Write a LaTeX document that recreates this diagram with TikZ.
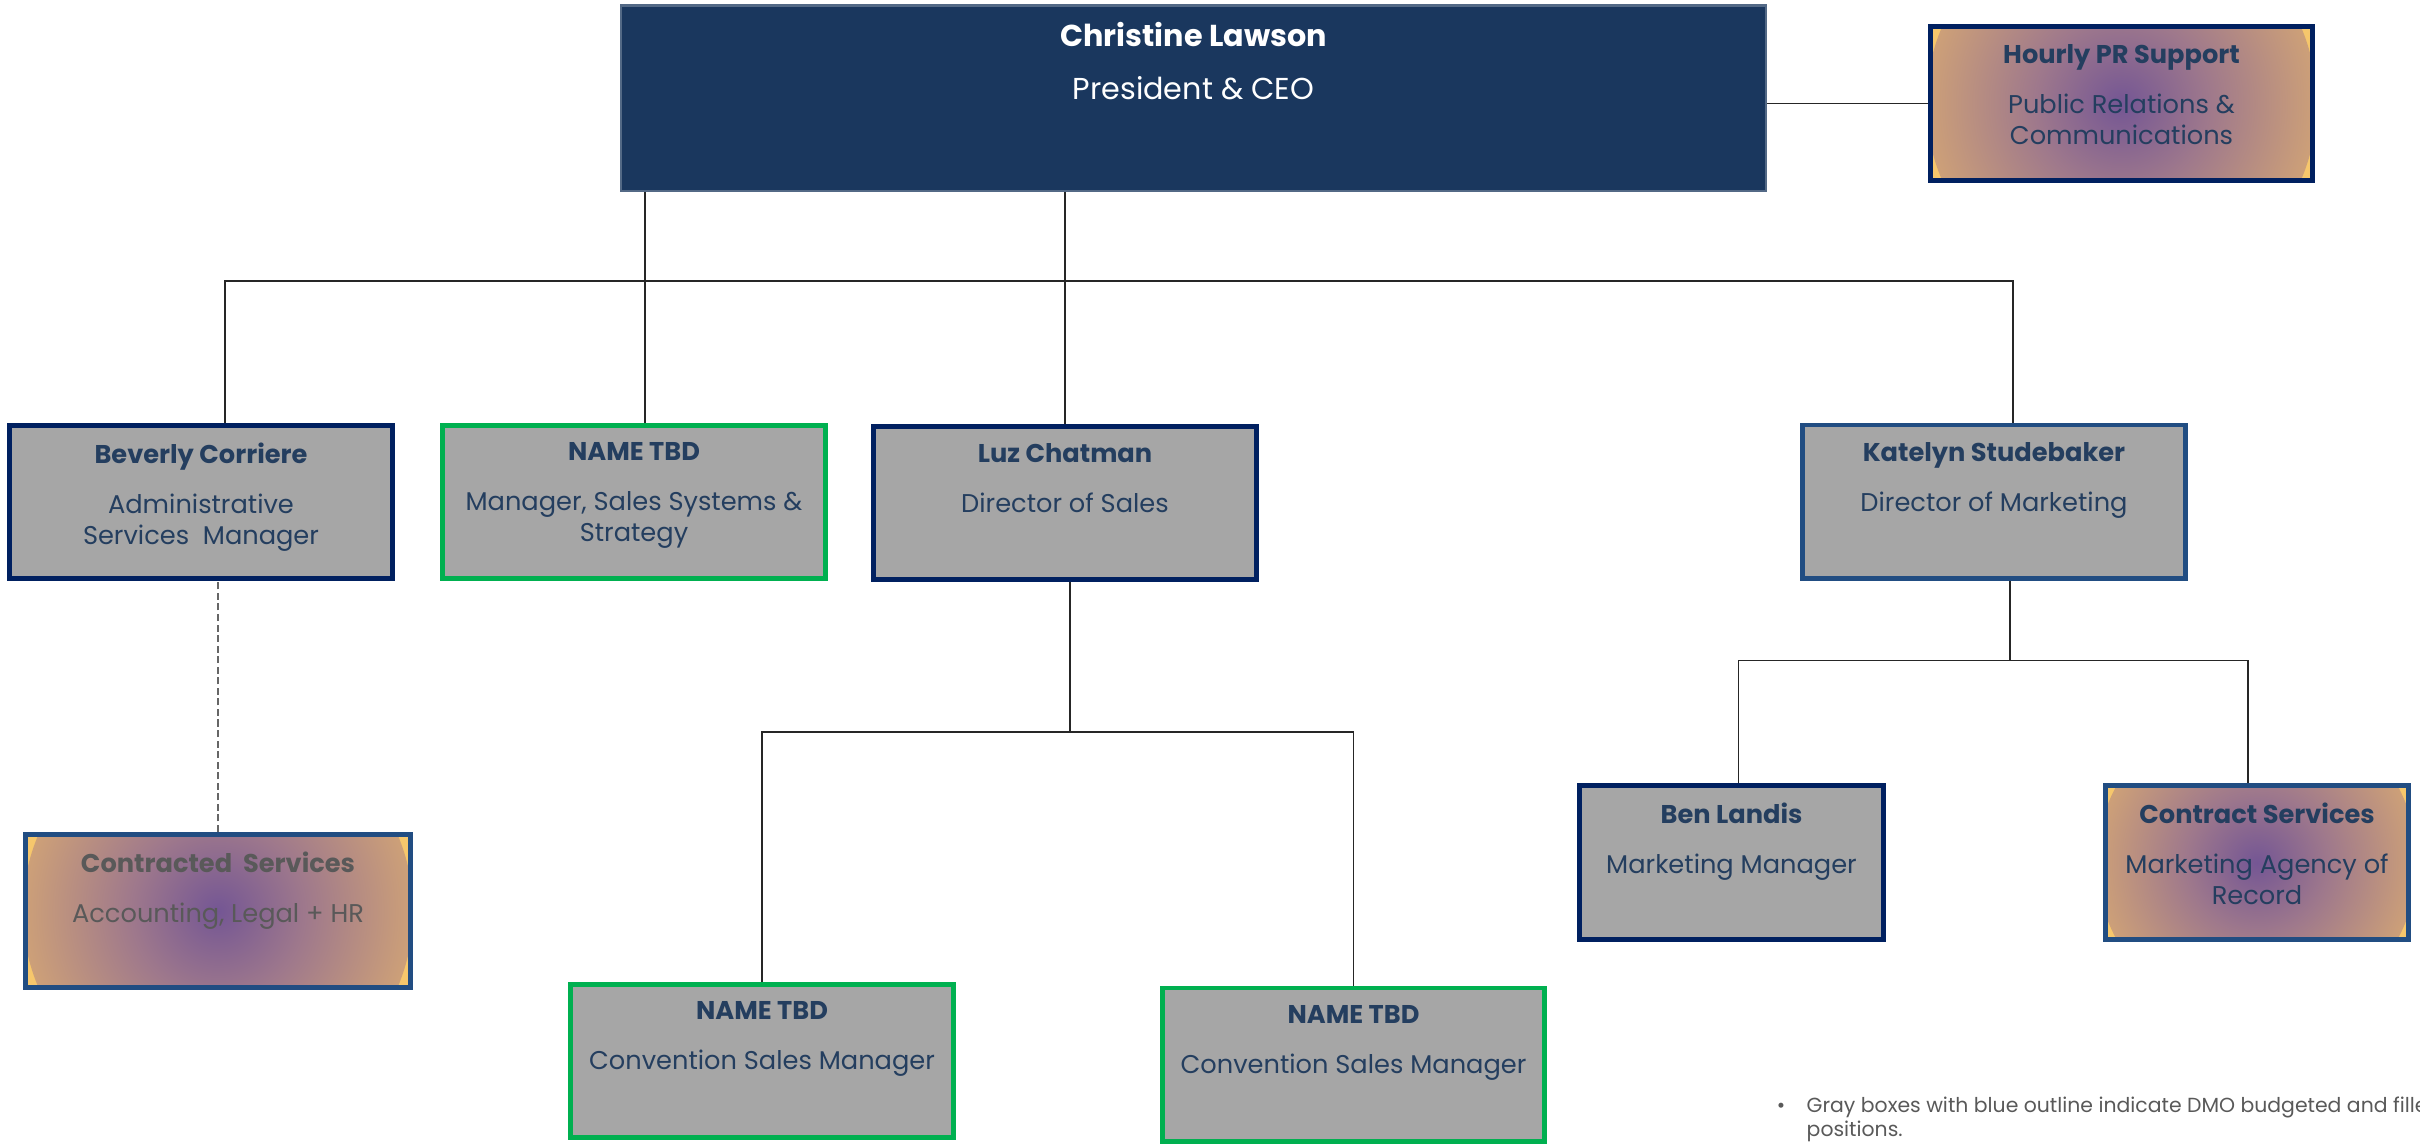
\documentclass[tikz,border=0pt]{standalone}
\usepackage{fontspec}
\setmainfont{Poppins}
\usepackage{xcolor}
\usepackage{tikz}
\usetikzlibrary{positioning,calc}

\definecolor{ceonavy}{RGB}{26,55,94}
\definecolor{boxgray}{RGB}{166,166,166}
\definecolor{darkline}{RGB}{0,32,96}
\definecolor{midline}{RGB}{33,77,130}
\definecolor{tbdgreen}{RGB}{0,176,80}
\definecolor{nametext}{RGB}{36,62,95}
\definecolor{contgray}{RGB}{89,89,89}
\definecolor{prgold}{RGB}{246,199,108}
\definecolor{prtan}{RGB}{205,160,120}
\definecolor{prmauve}{RGB}{158,120,140}
\definecolor{prpurple}{RGB}{116,86,148}

\pgfdeclareradialshading{prglow}{\pgfpoint{0bp}{0bp}}{color(0bp)=(prpurple); color(11bp)=(prmauve); color(25bp)=(prtan); color(39bp)=(prgold); color(50bp)=(prgold)}

\tikzset{
	posbox/.style={draw, line width=1.4pt, fill=boxgray, minimum width=3.82cm, minimum height=1.53cm, inner sep=0pt},
	staffbox/.style={posbox, draw=darkline},
	leadbox/.style={posbox, draw=midline},
	tbdbox/.style={posbox, draw=tbdgreen},
	glowbox/.style={posbox, fill=prgold, path picture={\shade[shading=prglow] (path picture bounding box.center) circle (#1);}},
	conn/.style={draw=black!85, line width=0.4pt},
	txt/.style={anchor=north, align=center, inner sep=0pt, text=nametext, font=\fontsize{7.3}{8.8}\selectfont},
	notetxt/.style={inner sep=0pt, text=contgray, font=\fontsize{5.8}{7}\selectfont},
}

\begin{document}
\begin{tikzpicture}[x=0.01cm, y=-0.01cm]
		\useasboundingbox (0,0) rectangle (2420,1145);
		
		\node[fill=ceonavy, draw=ceonavy!75, line width=0.6pt, minimum width=11.45cm, minimum height=1.85cm] (ceo) at (1193.5,98) {};
		\node[txt, text=white, font=\fontsize{8.6}{10}\selectfont] (ceot) at ([yshift=-0.17cm]ceo.north) {\textbf{Christine Lawson}\\[5pt]President \& CEO};
		
		\node[glowbox=1.95cm, draw=darkline] (pr) at (2121.5,103.5) {};
		\node[txt] (prt) at ([yshift=-0.19cm]pr.north) {\textbf{Hourly PR Support}\\[5.4pt]Public Relations \&\\Communications};
		
		% second row
		\node[staffbox] (bev) at (201,502) {};
		\node[txt] (bevt) at ([yshift=-0.19cm]bev.north) {\textbf{Beverly Corriere}\\[5.4pt]Administrative\\Services~~Manager};
		\node[tbdbox] (sys) at (634,502) {};
		\node[txt] (syst) at ([yshift=-0.19cm]sys.north) {\textbf{NAME TBD}\\[5.4pt]Manager, Sales Systems \&\\Strategy};
		\node[staffbox] (luz) at (1065,503) {};
		\node[txt] (luzt) at ([yshift=-0.19cm]luz.north) {\textbf{Luz Chatman}\\[5.4pt]Director of Sales};
		\node[leadbox] (kat) at (1994,501.5) {};
		\node[txt] (katt) at ([yshift=-0.19cm]kat.north) {\textbf{Katelyn Studebaker}\\[5.4pt]Director of Marketing};
		
		% third row
		\node[glowbox=1.95cm, draw=midline, minimum width=3.85cm] (cont) at (218,911) {};
		\node[txt, text=contgray] (contt) at ([yshift=-0.19cm]cont.north) {\textbf{Contracted~~Services}\\[5.4pt]Accounting, Legal + HR};
		\node[staffbox, minimum width=3.03cm, minimum height=1.54cm] (ben) at (1731.5,862.5) {};
		\node[txt] (bent) at ([yshift=-0.19cm]ben.north) {\textbf{Ben Landis}\\[5.4pt]Marketing Manager};
		\node[glowbox=1.6cm, draw=midline, minimum width=3.03cm, minimum height=1.54cm] (cs) at (2257,862.5) {};
		\node[txt] (cst) at ([yshift=-0.19cm]cs.north) {\textbf{Contract Services}\\[5.4pt]Marketing Agency of\\Record};
		\node[tbdbox] (conva) at (762,1061) {};
		\node[txt] (convat) at ([yshift=-0.19cm]conva.north) {\textbf{NAME TBD}\\[5.4pt]Convention Sales Manager};
		\node[tbdbox] (convb) at (1353.5,1064.5) {};
		\node[txt] (convbt) at ([yshift=-0.19cm]convb.north) {\textbf{NAME TBD}\\[5.4pt]Convention Sales Manager};
		
		% lines
		\draw[conn] (pr.west) -- (pr.west -| ceo.east);
		\draw[conn] ([xshift=0.24cm]bev.north) -- ++(0,-142) coordinate (topbus) -| ([xshift=0.19cm]kat.north);
		\draw[conn] ([xshift=0.11cm]sys.north) -- ([xshift=0.11cm]sys.north |- ceo.south);
		\draw[conn] (luz.north) -- (luz.north |- ceo.south);
		\draw[conn] ([xshift=0.05cm]luz.south) -- ++(0,150) coordinate (salesbus);
		\draw[conn] (conva.north) |- (salesbus) -| (convb.north);
		\draw[conn] ([xshift=0.16cm]kat.south) -- ++(0,80) coordinate (mktbus);
		\draw[conn] ([xshift=0.07cm]ben.north) |- (mktbus) -| ([xshift=-0.09cm]cs.north);
		\draw[conn, draw=black!60, dash pattern=on 2pt off 1pt] (cont.north) -- (cont.north |- bev.south);
		
		\node[notetxt, anchor=base west] (note) at (1806,1112) {Gray boxes with blue outline indicate DMO budgeted and filled};
		\node[notetxt, anchor=base west] (note2) at (1806,1136) {positions.};
		\node[notetxt, anchor=base east] (dot) at ([xshift=-0.2cm]note.base west) {\textbullet};
	\end{tikzpicture}
\end{document}
